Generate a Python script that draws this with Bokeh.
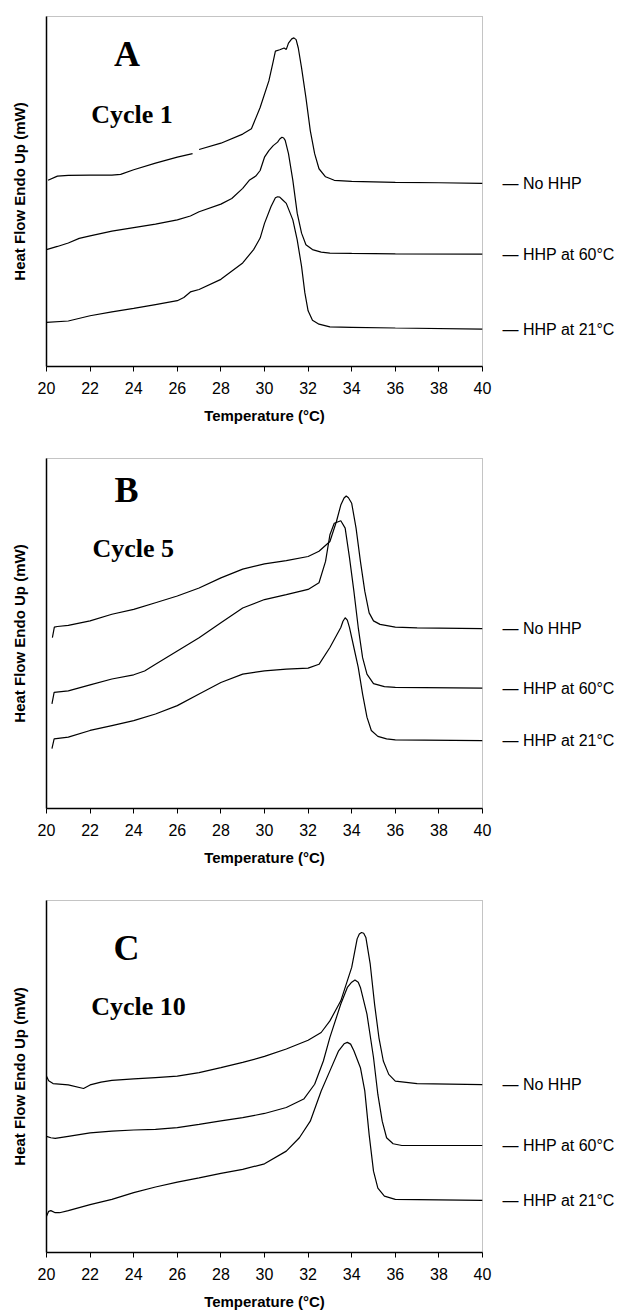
import numpy as np
from bokeh.plotting import figure
from bokeh.models import FixedTicker, Label, LinearAxis
from bokeh.layouts import column
from bokeh.embed import file_html
from bokeh.resources import INLINE

nan = float("nan")

# ---------------- data (temperature in °C, heat flow in arbitrary units 0-100) -------------
x_ticks = [20, 22, 24, 26, 28, 30, 32, 34, 36, 38, 40]
series_names = ["No HHP", "HHP at 60°C", "HHP at 21°C"]
panel_letters = ["A", "B", "C"]
panel_cycles = ["Cycle 1", "Cycle 5", "Cycle 10"]

# Panel A - Cycle 1
tA_no = [20.07, 20.5, 21, 22, 23, 23.4, 24, 25, 26, 26.7, 26.85, 27.0, 28, 29, 29.4, 29.8, 30.2, 30.4, 30.5,
         30.7, 30.9, 31.0, 31.1, 31.25, 31.35, 31.45, 31.55, 31.7, 31.9, 32.1, 32.3, 32.5, 32.8, 33.2, 34, 36, 38, 40]
hA_no = [53.2, 54.4, 54.6, 54.7, 54.7, 54.9, 56.2, 58.1, 59.8, 60.8, nan, 62.0, 63.8, 66.4, 67.9, 74.0, 81.6, 87.2, 90.1,
         90.5, 91.0, 90.6, 92.4, 93.6, 93.9, 93.4, 91.0, 85.3, 76.8, 67.4, 60.8, 56.5, 54.2, 53.2, 52.9, 52.6, 52.5, 52.3]
tA_60 = [20, 20.5, 21, 21.5, 22, 23, 24, 25, 26, 26.6, 27, 28, 28.5, 29, 29.3, 29.6, 29.8, 30.0, 30.2, 30.4,
         30.6, 30.7, 30.8, 30.88, 30.95, 31.1, 31.3, 31.5, 31.7, 31.9, 32.2, 32.6, 33, 34, 36, 40]
hA_60 = [33.4, 34.3, 35.3, 36.6, 37.3, 38.7, 39.7, 40.7, 41.9, 43.0, 44.2, 46.4, 48.0, 50.9, 53.2, 54.4, 56.0, 59.8, 61.7, 63.1,
         64.1, 65.0, 65.5, 65.3, 64.6, 60.8, 53.2, 43.8, 38.1, 34.8, 33.4, 32.7, 32.4, 32.3, 32.2, 32.1]
tA_21 = [20, 21, 22, 23, 24, 25, 26, 26.3, 26.6, 27, 28, 29, 29.5, 29.8, 30.0, 30.3, 30.5, 30.6, 30.7, 30.8, 31.0, 31.3,
         31.5, 31.7, 31.85, 32.0, 32.2, 32.5, 33, 34, 36, 40]
hA_21 = [12.6, 13.0, 14.5, 15.6, 16.6, 17.7, 18.8, 19.7, 21.3, 22.0, 24.9, 29.6, 33.4, 36.7, 40.9, 45.7, 48.2, 48.5, 48.4, 47.8, 46.6, 41.9,
         36.2, 28.6, 21.1, 15.9, 13.2, 12.1, 11.3, 11.2, 11.0, 10.7]

# Panel B - Cycle 5
tB_no = [20.27, 20.36, 20.5, 21, 22, 23, 24, 25, 26, 27, 28, 29, 30, 31, 32, 32.5, 33, 33.3, 33.5, 33.65, 33.75,
         33.85, 34.0, 34.2, 34.4, 34.6, 34.8, 35.0, 35.3, 36, 37, 40]
hB_no = [48.8, 51.8, 52.0, 52.3, 53.6, 55.5, 56.9, 58.8, 60.7, 63.0, 65.9, 68.4, 69.9, 70.8, 72.0, 73.5, 76.3, 82.0, 86.7, 88.7, 89.3,
         88.8, 87.2, 80.1, 70.6, 62.1, 55.9, 53.6, 52.6, 51.8, 51.6, 51.4]
tB_60 = [20.25, 20.35, 21, 22, 23, 24, 24.5, 25, 26, 27, 28, 29, 30, 31, 32, 32.5, 32.8, 33.0, 33.2, 33.5,
         33.7, 33.9, 34.1, 34.3, 34.5, 34.7, 35.0, 35.5, 36, 40]
hB_60 = [29.9, 33.2, 33.6, 35.3, 37.0, 38.2, 39.3, 41.2, 45.0, 48.8, 53.1, 57.3, 59.7, 61.1, 62.6, 64.5, 70.6, 78.2, 81.5, 82.2,
         80.1, 71.6, 62.1, 51.7, 43.1, 38.4, 35.7, 34.8, 34.6, 34.4]
tB_21 = [20.25, 20.35, 21, 22, 23, 24, 25, 26, 27, 28, 29, 30, 31, 32, 32.5, 33, 33.5, 33.6, 33.7, 33.8, 33.9, 34.1,
         34.3, 34.5, 34.7, 34.9, 35.2, 35.6, 36, 40]
hB_21 = [17.1, 19.9, 20.4, 22.3, 23.7, 25.1, 27.0, 29.4, 32.7, 36.0, 38.4, 39.3, 39.8, 40.1, 41.2, 46.0, 51.7, 53.5, 54.5, 53.8, 51.7, 46.0,
         40.3, 32.7, 26.1, 22.3, 20.6, 19.9, 19.6, 19.4]

# Panel C - Cycle 10
tC_no = [20, 20.1, 20.3, 21, 21.7, 22, 22.5, 23, 24, 25, 26, 27, 28, 29, 30, 31, 32, 32.6, 33, 33.5,
         34.0, 34.25, 34.35, 34.45, 34.55, 34.65, 34.85, 35.05, 35.25, 35.45, 35.7, 36, 37, 40]
hC_no = [50.1, 48.8, 48.0, 47.6, 46.6, 47.6, 48.4, 48.9, 49.3, 49.7, 50.1, 51.1, 52.5, 54.0, 55.7, 57.8, 60.3, 62.5, 65.8, 71.5,
         81.0, 89.1, 90.5, 90.9, 90.7, 89.5, 81.9, 70.5, 61.0, 54.4, 50.6, 48.7, 48.0, 47.7]
tC_60 = [20, 20.2, 20.4, 21, 22, 23, 24, 25, 26, 27, 28, 29, 30, 31, 31.8, 32.3, 32.7, 33.0, 33.5, 33.8,
         34.0, 34.15, 34.3, 34.4, 34.7, 35.0, 35.2, 35.4, 35.6, 35.9, 36.3, 40]
hC_60 = [33.0, 32.6, 32.4, 33.0, 34.0, 34.5, 34.8, 35.0, 35.5, 36.4, 37.4, 38.3, 39.5, 41.2, 43.6, 47.8, 54.4, 61.1, 70.6, 75.3,
         76.8, 77.4, 76.8, 75.3, 67.7, 55.4, 44.9, 37.3, 32.6, 30.9, 30.4, 30.4]
tC_21 = [20, 20.1, 20.2, 20.4, 20.6, 21, 22, 23, 24, 25, 26, 27, 28, 29, 30, 31, 31.6, 32.1, 32.6, 33.0,
         33.4, 33.65, 33.8, 33.95, 34.1, 34.4, 34.6, 34.8, 35.0, 35.2, 35.5, 36, 40]
hC_21 = [10.3, 11.7, 11.9, 11.3, 11.3, 11.9, 13.6, 15.1, 17.0, 18.6, 20.0, 21.2, 22.5, 23.6, 25.2, 28.8, 32.6, 37.3, 45.9, 51.6,
         57.3, 59.3, 59.7, 59.2, 57.3, 52.5, 45.9, 33.5, 23.1, 18.3, 16.0, 15.1, 14.8]

panels = [
    dict(curves=[(tA_no, hA_no), (tA_60, hA_60), (tA_21, hA_21)], height=440, top=16, bottom=74, left=46, right=137,
         letter_pos=(23.69, 89.4), cycle_pos=(22.05, 72.1)),
    dict(curves=[(tB_no, hB_no), (tB_60, hB_60), (tB_21, hB_21)], height=440, top=18, bottom=72, left=44, right=137,
         letter_pos=(23.67, 90.9), cycle_pos=(22.11, 74.3)),
    dict(curves=[(tC_no, hC_no), (tC_60, hC_60), (tC_21, hC_21)], height=433, top=20, bottom=61, left=43, right=140,
         letter_pos=(23.67, 86.4), cycle_pos=(22.05, 69.9)),
]

SANS = "Liberation Sans"
SERIF = "Liberation Serif"

figs = []
for i, pd_ in enumerate(panels):
    p = figure(width=622, height=pd_["height"], x_range=(20, 40), y_range=(0, 100),
               output_backend="svg", toolbar_location=None,
               min_border_top=pd_["top"], min_border_bottom=pd_["bottom"],
               min_border_left=pd_["left"], min_border_right=pd_["right"])
    p.background_fill_color = "white"
    p.border_fill_color = "white"
    p.grid.visible = False
    p.outline_line_color = "#888888"
    p.outline_line_dash = "1 1"
    p.outline_line_width = 1

    for (t, h) in pd_["curves"]:
        p.line(t, h, line_color="black", line_width=1.2)

    # x axis
    xa = p.xaxis[0]
    xa.ticker = FixedTicker(ticks=x_ticks)
    xa.axis_label = "Temperature (°C)"
    xa.axis_label_text_font = SANS
    xa.axis_label_text_font_style = "bold"
    xa.axis_label_text_font_size = "15px"
    xa.axis_label_text_color = "black"
    xa.axis_label_standoff = 10
    xa.major_label_text_font = SANS
    xa.major_label_text_font_size = "16px"
    xa.major_label_text_color = "black"
    xa.major_label_standoff = 10
    xa.major_tick_out = 5
    xa.major_tick_in = 0
    xa.minor_tick_out = 0
    xa.minor_tick_in = 0
    xa.axis_line_color = "black"
    xa.axis_line_width = 1.5
    xa.major_tick_line_color = "black"

    # y axis (no ticks)
    ya = p.yaxis[0]
    ya.ticker = FixedTicker(ticks=[])
    ya.axis_label = "Heat Flow Endo Up (mW)"
    ya.axis_label_text_font = SANS
    ya.axis_label_text_font_style = "bold"
    ya.axis_label_text_font_size = "15px"
    ya.axis_label_text_color = "black"
    ya.axis_label_standoff = 19
    ya.axis_line_color = "black"
    ya.axis_line_width = 1.5
    ya.major_tick_out = 0
    ya.minor_tick_out = 0

    # series names beside each trace end (right-side axis carrying the names)
    tails = [float(h[-1]) for (t, h) in pd_["curves"]]
    ra = LinearAxis(ticker=FixedTicker(ticks=tails),
                    major_label_overrides={v: "\u2014 " + n for v, n in zip(tails, series_names)})
    ra.axis_line_color = None
    ra.major_tick_line_color = None
    ra.minor_tick_line_color = None
    ra.major_tick_out = 0
    ra.minor_tick_out = 0
    ra.major_label_standoff = 20
    ra.major_label_text_font = SANS
    ra.major_label_text_font_size = "16px"
    ra.major_label_text_color = "black"
    p.add_layout(ra, "right")

    # panel letter and cycle
    lx, ly = pd_["letter_pos"]
    p.add_layout(Label(x=lx, y=ly, text=panel_letters[i], text_font=SERIF, text_font_style="bold",
                       text_font_size="36px", text_align="center", text_baseline="middle", text_color="black"))
    cx, cy = pd_["cycle_pos"]
    p.add_layout(Label(x=cx, y=cy, text=panel_cycles[i], text_font=SERIF, text_font_style="bold",
                       text_font_size="26px", text_align="left", text_baseline="middle", text_color="black"))
    figs.append(p)

layout = column(*figs, spacing=0)
open("out.html", "w").write(file_html(layout, INLINE))
